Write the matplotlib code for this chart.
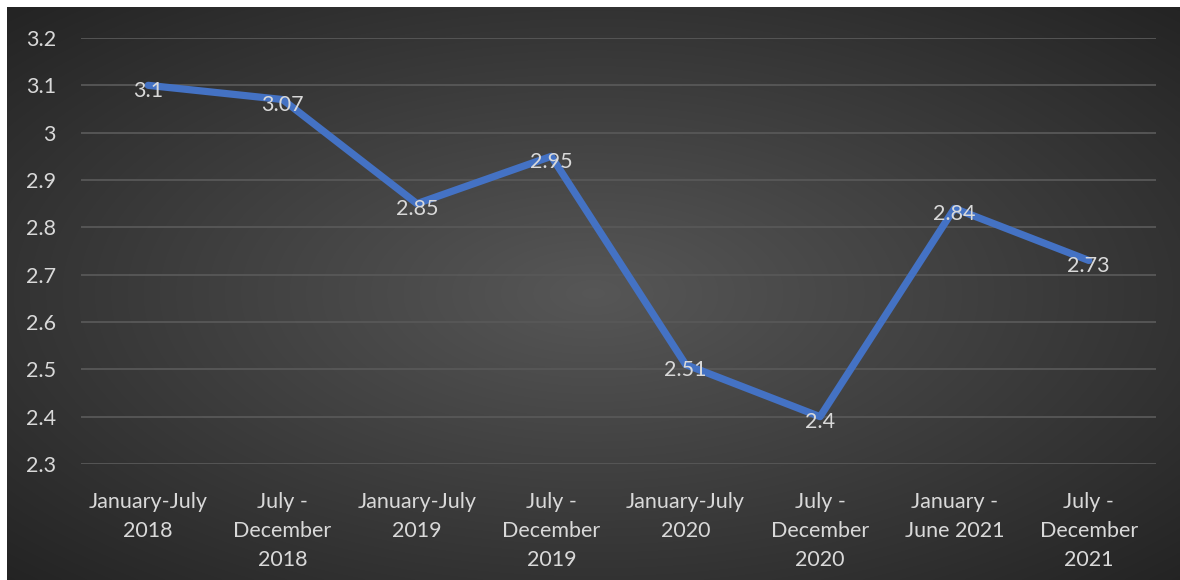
import numpy as np
import matplotlib
matplotlib.use("Agg")
import matplotlib.pyplot as plt

# data
periods = ["January-July\n2018", "July -\nDecember\n2018", "January-July\n2019",
           "July -\nDecember\n2019", "January-July\n2020", "July -\nDecember\n2020",
           "January -\nJune 2021", "July -\nDecember\n2021"]
values = [3.1, 3.07, 2.85, 2.95, 2.51, 2.4, 2.84, 2.73]
label_text = ["3.1", "3.07", "2.85", "2.95", "2.51", "2.4", "2.84", "2.73"]
yticks = [2.3, 2.4, 2.5, 2.6, 2.7, 2.8, 2.9, 3.0, 3.1, 3.2]
ytick_text = ["2.3", "2.4", "2.5", "2.6", "2.7", "2.8", "2.9", "3", "3.1", "3.2"]

plt.rcParams["font.family"] = ["Lato", "DejaVu Sans"]
text_col = "#d9d9d9"

W, H = 1180, 580
fig = plt.figure(figsize=(W / 100, H / 100), dpi=100)
fig.patch.set_facecolor("white")

# radial gradient background
bg = fig.add_axes([7 / W, 0, (W - 7) / W, (H - 7) / H])
gy, gx = np.mgrid[0:1:300j, 0:1:600j]
r = np.sqrt(((gx - 0.5) / 0.5) ** 2 + ((gy - 0.5) / 0.5) ** 2) / np.sqrt(2)
shade = 0.34 - 0.20 * r
img = np.dstack([shade, shade, shade])
bg.imshow(img, aspect="auto", extent=[0, 1, 0, 1], interpolation="bilinear")
bg.axis("off")

# main plot
ax = fig.add_axes([81 / W, 1 - 464 / H, (1156 - 81) / W, (464 - 38) / H])
ax.patch.set_alpha(0)
x = np.arange(len(values))
ax.plot(x, values, color="#4472C4", lw=5.2, solid_capstyle="round",
        solid_joinstyle="round", zorder=3)

for xi, yi, t in zip(x, values, label_text):
    ax.text(xi, yi - 0.012, t, ha="center", va="center", color=text_col,
            fontsize=15.5, zorder=4)

ax.set_xlim(-0.5, len(values) - 0.5)
ax.set_ylim(2.3, 3.2)
ax.set_yticks(yticks)
ax.set_yticklabels(ytick_text)
ax.set_xticks(x)
ax.set_xticklabels(periods, linespacing=1.56)
ax.tick_params(axis="both", length=0, colors=text_col, labelsize=15.5)
ax.tick_params(axis="y", pad=18)
ax.tick_params(axis="x", pad=20)
for lab in ax.get_yticklabels():
    lab.set_horizontalalignment("right")
ax.grid(axis="y", color="#585858", lw=1.3)
ax.set_axisbelow(True)
for s in ax.spines.values():
    s.set_visible(False)

fig.savefig("out.png", dpi=100)
